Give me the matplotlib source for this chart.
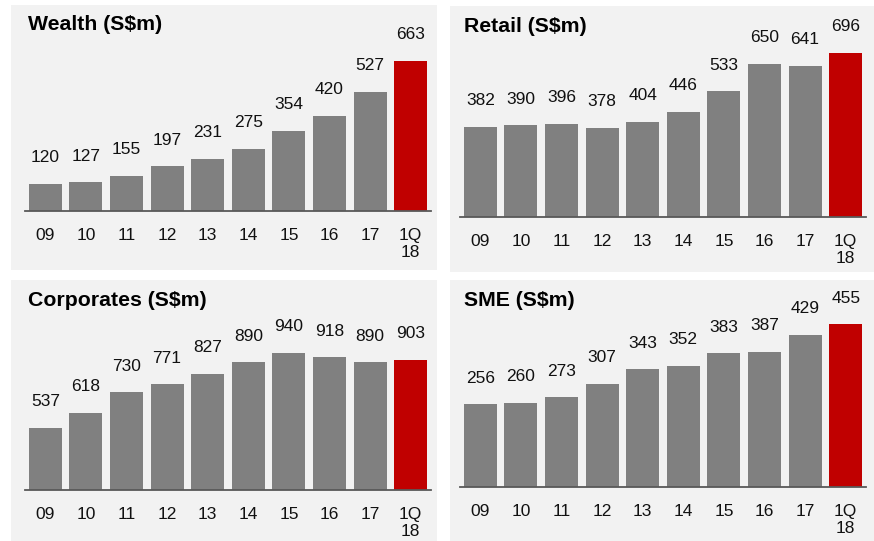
import matplotlib
matplotlib.use("Agg")
import matplotlib.pyplot as plt
from matplotlib.patches import Rectangle

plt.rcParams['font.family'] = ['Liberation Sans', 'DejaVu Sans']

categories = ["09", "10", "11", "12", "13", "14", "15", "16", "17", "1Q\n18"]
wealth = [120, 127, 155, 197, 231, 275, 354, 420, 527, 663]
retail = [382, 390, 396, 378, 404, 446, 533, 650, 641, 696]
corporates = [537, 618, 730, 771, 827, 890, 940, 918, 890, 903]
sme = [256, 260, 273, 307, 343, 352, 383, 387, 429, 455]

titles = ["Wealth (S$m)", "Retail (S$m)", "Corporates (S$m)", "SME (S$m)"]
series = [wealth, retail, corporates, sme]

W, H = 874, 541
fig = plt.figure(figsize=(W / 100, H / 100), dpi=100)
fig.patch.set_facecolor("white")

BG = "#f2f2f2"
GREY = "#808080"
RED = "#c00000"
TXT = "#111111"

# panel backgrounds (pixel boxes: x0, y0, x1, y1 from top-left)
panels = [(11, 5, 437, 270), (450, 6, 874, 272), (11, 280, 437, 541), (450, 280, 874, 541)]
# axes boxes: x0, x1, top, baseline
axboxes = [(25, 431, 20, 211), (460, 866, 20, 217), (25, 431, 290, 490), (460, 866, 290, 487)]
ylims = [(0, 843), (0, 836), (203, 1279), (50, 540)]
title_pos = [(28, 25), (464, 26), (28, 301), (464, 301)]

for (x0, y0, x1, y1) in panels:
    fig.patches.append(Rectangle((x0 / W, 1 - y1 / H), (x1 - x0) / W, (y1 - y0) / H,
                                 transform=fig.transFigure, facecolor=BG, edgecolor="none", zorder=-5))

for i in range(4):
    x0, x1, top, base = axboxes[i]
    ax = fig.add_axes([x0 / W, 1 - base / H, (x1 - x0) / W, (base - top) / H])
    ax.set_zorder(1)
    ax.set_facecolor("none")
    vals = series[i]
    colors = [GREY] * (len(vals) - 1) + [RED]
    lo = ylims[i][0]
    ax.bar(range(len(vals)), [v - lo for v in vals], bottom=lo, width=0.81, color=colors, zorder=2)
    ax.set_xlim(-0.5, 9.5)
    ax.set_ylim(*ylims[i])
    for j, v in enumerate(vals):
        ax.annotate(str(v), (j, v), xytext=(0, 15.5), textcoords="offset points",
                    ha="center", va="baseline", fontsize=12.5, color=TXT)
    for s in ["top", "right", "left"]:
        ax.spines[s].set_visible(False)
    ax.spines["bottom"].set_color("#595959")
    ax.spines["bottom"].set_linewidth(1.3)
    ax.spines["bottom"].set_zorder(3)
    ax.set_yticks([])
    ax.set_xticks(range(len(categories)))
    ax.set_xticklabels(categories, fontsize=12.5, color=TXT, linespacing=1.15)
    ax.tick_params(axis="x", length=0, pad=12.5)
    tx, ty = title_pos[i]
    fig.text(tx / W, 1 - ty / H, titles[i], fontsize=15.3, fontweight="bold",
             ha="left", va="center", color="black", zorder=5)

fig.savefig("out.png", dpi=100, facecolor="white")
